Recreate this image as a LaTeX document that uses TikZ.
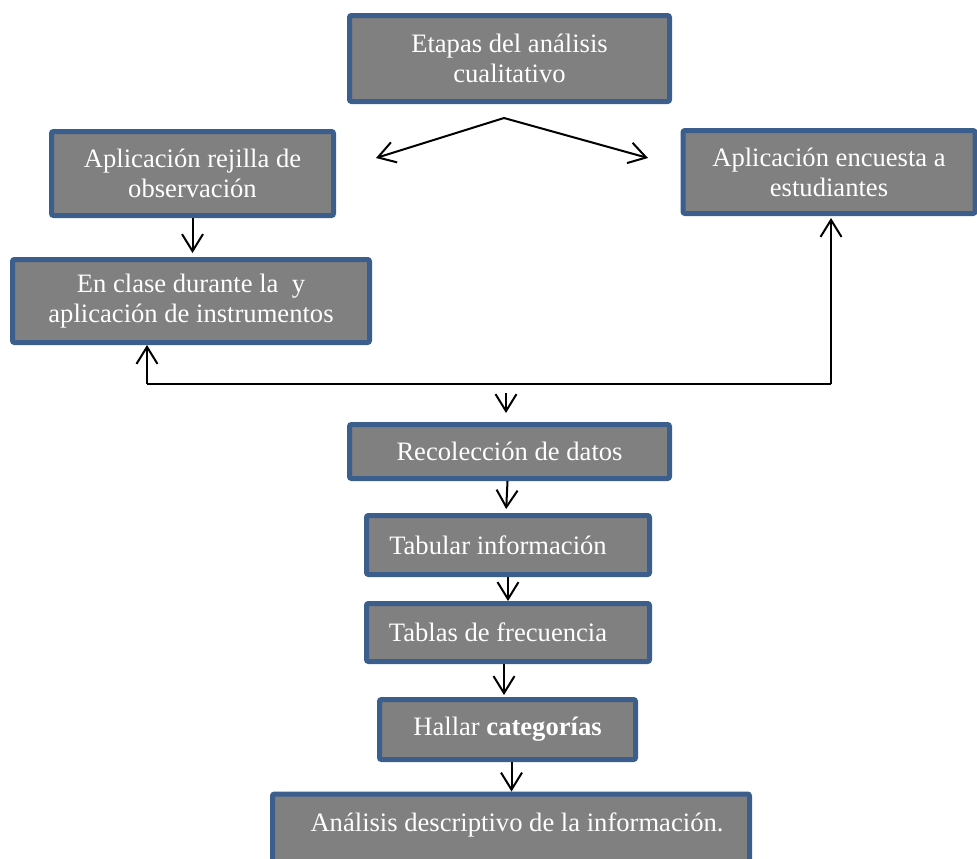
\documentclass[tikz,border=0pt]{standalone}
\usepackage{fontspec}
\setmainfont{Liberation Serif}
\usetikzlibrary{arrows.meta}
\definecolor{boxblue}{HTML}{3B5E8C}
\definecolor{boxgray}{HTML}{808080}
\begin{document}
\begin{tikzpicture}[x=0.5pt,y=-0.5pt]
\tikzstyle{every node}+=[inner sep=0pt]
\tikzstyle{etapa}=[draw=boxblue, line width=2.5pt, fill=boxgray, rounded corners=1pt, text=white, align=center, font=\fontsize{13.3}{15}\selectfont]
\tikzstyle{flecha}=[black, line width=1pt, -{Straight Barb[length=8.5pt,width=10.5pt]}]
\useasboundingbox (0,0) rectangle (977,858);
\node [etapa, minimum width=160pt, minimum height=43pt] (etapas) at (509.5,58.5) {Etapas del análisis\\cualitativo};
\node [etapa, minimum width=141pt, minimum height=42pt] (rejilla) at (192.5,173.5) {Aplicación rejilla de\\observación};
\node [etapa, minimum width=146pt, minimum height=41.5pt] (encuesta) at (829,172) {Aplicación encuesta a\\estudiantes};
\node [etapa, minimum width=178.5pt, minimum height=41.5pt] (clase) at (191,301) {En clase durante la\ \ y\\aplicación de instrumentos};
\node [etapa, minimum width=160pt, minimum height=27pt] (recoleccion) at (509.5,451.5) {Recolección de datos};
\node [etapa, minimum width=141.5pt, minimum height=29.5pt] (tabular) at (508,545) {Tabular información\hspace*{10pt}};
\node [etapa, minimum width=141.5pt, minimum height=29pt] (tablas) at (508,632.5) {Tablas de frecuencia\hspace*{10pt}};
\node [etapa, minimum width=128pt, minimum height=30pt] (hallar) at (507.5,729.5) {Hallar \textbf{categorías}};
\node [etapa, minimum width=238.5pt, minimum height=44pt] (analisis) at (511,838) {\hspace*{6pt}Análisis descriptivo de la información.\\[1pt]\mbox{}};
\coordinate (fork) at (504,118);
\coordinate (forkL) at (376,158);
\coordinate (forkR) at (648,158);
\coordinate (busL) at (147,384);
\coordinate (busR) at (831,384);
\coordinate (drop) at (506,393);
\draw [flecha] (fork) -- (forkL);
\draw [flecha] (fork) -- (forkR);
\draw [flecha, shorten >=2pt] (rejilla.south) -- (rejilla.south |- clase.north);
\draw [black, line width=1pt] (busL) -- (busR);
\draw [flecha] (busL) -- (busL |- clase.south);
\draw [flecha, shorten >=1pt] (busR) -- (busR |- encuesta.south);
\draw [flecha, shorten >=4.5pt] (drop) -- (drop |- recoleccion.north);
\draw [flecha, shorten >=2pt] ([xshift=-1pt]recoleccion.south) -- ([xshift=-1pt]tabular.north);
\draw [flecha] (tabular.south) -- (tablas.north);
\draw [flecha, shorten >=1pt] ([xshift=-2pt]tablas.south) -- ([xshift=-2pt]tablas.south |- hallar.north);
\draw [flecha] ([xshift=2pt]hallar.south) -- ([xshift=2pt]hallar.south |- analisis.north);
\end{tikzpicture}
\end{document}
